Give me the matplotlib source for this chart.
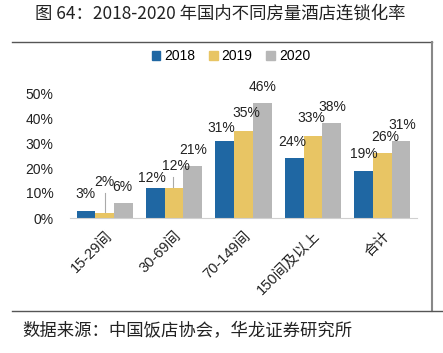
import numpy as np
import matplotlib.pyplot as plt
from matplotlib.lines import Line2D

plt.rcParams['font.family'] = ['Liberation Sans', 'Noto Sans CJK SC']

categories = ['15-29间', '30-69间', '70-149间', '150间及以上', '合计']
years = ['2018', '2019', '2020']
v2018 = [3, 12, 31, 24, 19]
v2019 = [2, 12, 35, 33, 26]
v2020 = [6, 21, 46, 38, 31]
colors = ['#1f67a3', '#e8c564', '#b7b7b7']

# label offsets (px) from bar top: (dx, dy)
offsets = [
    [(0, 16), (-3, 10), (-3, 13), (-2, 16), (0, 16)],
    [(0, 31), (2, 22), (3, 18), (-2, 18), (3, 16)],
    [(-1, 16), (0, 16), (0, 16), (1, 16), (1, 16)],
]

fig = plt.figure(figsize=(4.43, 3.53), dpi=100)
ax = fig.add_axes([70 / 443, 1 - 218 / 353, 347 / 443, 125 / 353])

x = np.arange(len(categories))
w = 0.27
series = [v2018, v2019, v2020]
for i, (vals, c) in enumerate(zip(series, colors)):
    xs = x + (i - 1) * w
    ax.bar(xs, vals, width=w, color=c, label=years[i], zorder=2)
    for j, v in enumerate(vals):
        dx, dy = offsets[i][j]
        ax.annotate(f'{v}%', (xs[j], v), xytext=(dx * 0.72, dy * 0.72),
                    textcoords='offset points', ha='center', va='center',
                    fontsize=10, color='#222222', annotation_clip=False)

# leader lines for the crowded labels
ax.plot([x[0], x[0]], [v2019[0], 10], color='#aaaaaa', lw=0.8, zorder=1)
ax.plot([x[1] - 0.02, x[1] - 0.02], [v2019[1], 16.5], color='#aaaaaa', lw=0.8, zorder=1)

ax.set_xlim(-0.5, 4.5)
ax.set_ylim(0, 50)
ax.set_yticks(range(0, 51, 10))
ax.set_yticklabels([f'{t}%' for t in range(0, 51, 10)], fontsize=10, color='#222222')
ax.set_xticks(x)
ax.set_xticklabels(categories, rotation=45, ha='right', va='top',
                   rotation_mode='anchor', fontsize=10.5, color='#222222')
ax.tick_params(length=0)
ax.tick_params(axis='y', pad=12)
ax.tick_params(axis='x', pad=8)
for s in ['top', 'right', 'left']:
    ax.spines[s].set_visible(False)
ax.spines['bottom'].set_color('#d0d0d0')

handles = [plt.Rectangle((0, 0), 1, 1, color=c) for c in colors]
fig.legend(handles, years, loc='center', bbox_to_anchor=(231 / 443, 1 - 56 / 353),
           ncol=3, frameon=False, fontsize=10, handlelength=0.6, handleheight=0.6,
           handletextpad=0.3, columnspacing=1.0)

fig.text(35 / 443, 1 - 14 / 353, '图 64：2018-2020 年国内不同房量酒店连锁化率',
         fontsize=12.5, va='center', ha='left', color='#222222',
         family=['Noto Sans CJK SC'])
fig.text(22 / 443, 1 - 331 / 353, '数据来源：中国饭店协会，华龙证券研究所',
         fontsize=12.5, va='center', ha='left', color='#222222',
         family=['Noto Sans CJK SC'])

fig.add_artist(Line2D([12 / 443, 432 / 443], [1 - 42 / 353] * 2, color='#555555', lw=1))
fig.add_artist(Line2D([432 / 443] * 2, [1 - 42 / 353, 1 - 311 / 353], color='#888888', lw=1.5))
fig.add_artist(Line2D([12 / 443, 1], [1 - 311 / 353] * 2, color='#555555', lw=1))

fig.savefig('out.png', dpi=100)
